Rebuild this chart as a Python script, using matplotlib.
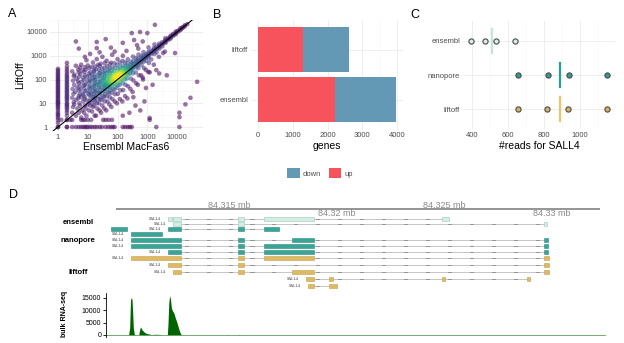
import numpy as np
import matplotlib
matplotlib.use('Agg')
import matplotlib.pyplot as plt
from matplotlib.patches import Patch, Rectangle
from matplotlib.colors import PowerNorm
from matplotlib.ticker import NullFormatter

plt.rcParams['font.family'] = ['Liberation Sans', 'DejaVu Sans']

W, H = 624, 343  # output size in pixels

# ---------------- panel A: counts per gene ----------------
# genes with 1 / 2 counts in Ensembl (vertical stripes)
col1_y = [1, 1.5, 2, 2.5, 3, 3.5, 4, 5, 6, 7, 8, 9, 10, 11, 12, 13, 15, 17, 19, 21, 24, 27,
          30, 34, 38, 43, 48, 55, 62, 70, 80, 90, 100, 115, 130, 150, 175, 200, 240, 280]
col2_y = [1, 2, 3, 4, 5, 6, 7, 8, 9, 10, 12, 14, 16, 18, 20, 23, 26, 30, 34, 39, 45, 52, 60,
          70, 80, 95, 110, 130, 150, 180, 220, 270, 350, 500]
# genes with 1 / 2 counts in LiftOff (horizontal rows)
floor1_x = [1, 2, 3, 4, 5, 6, 7, 8, 9, 10, 12, 14, 17, 20, 25, 30, 40, 50, 60, 70, 80,
            150, 180, 220, 260, 300, 2000, 12000]
floor2_x = [1.3, 2, 2.6, 3, 6, 7, 8, 10, 33, 40, 50, 65, 1200]
cloud_pts = [
    (4, 3), (4.5, 6), (3.5, 9), (4, 14), (5, 20), (3.8, 30), (4.4, 45), (5, 70), (4.2, 110), (3.6, 160), (4.8, 260), (4, 380),
    (6, 2.5), (6.5, 5), (5.5, 8), (7, 12), (6, 18), (6.8, 26), (5.8, 38), (7.2, 55), (6.2, 80), (7, 120), (5.6, 170), (6.6, 240), (6, 420),
    (9, 3), (8.5, 6), (10, 9), (9.5, 13), (8, 18), (10.5, 25), (9, 34), (11, 47), (8.8, 65), (10, 90), (9.2, 130), (11, 180), (8.5, 260), (10, 390), (9, 650),
    (13, 2), (14, 4.5), (15, 7), (13.5, 10), (16, 14), (14.5, 19), (13, 25), (15.5, 33), (14, 46), (16.5, 62), (13, 85), (15, 115), (14, 160), (16, 230), (13.5, 340), (15, 520),
    (19, 3), (21, 6), (20, 10), (22, 15), (18.5, 20), (21, 27), (19.5, 35), (23, 46), (20, 60), (22, 78), (18, 100), (21, 135), (24, 185), (19, 270), (22, 410), (20, 720),
    (28, 4), (31, 8), (29, 14), (33, 20), (27, 27), (32, 35), (30, 46), (34, 58), (28, 72), (31, 92), (33, 118), (29, 155), (32, 205), (30, 290), (27, 460), (31, 900),
    (42, 5), (46, 12), (44, 20), (48, 30), (41, 40), (47, 50), (45, 63), (43, 76), (49, 92), (44, 112), (46, 142), (42, 185), (48, 245), (45, 360), (43, 620),
    (62, 7), (67, 15), (64, 28), (70, 40), (60, 52), (66, 65), (63, 79), (69, 96), (61, 116), (68, 142), (65, 182), (63, 235), (67, 330), (62, 510), (66, 1100),
    (95, 10), (102, 25), (98, 45), (105, 62), (92, 78), (100, 92), (97, 106), (104, 122), (93, 142), (101, 172), (99, 212), (106, 285), (96, 410), (100, 720),
    (145, 12), (155, 36), (150, 70), (142, 100), (158, 125), (148, 146), (152, 166), (146, 192), (156, 232), (149, 295), (153, 385), (147, 610), (151, 1000),
    (215, 16), (225, 52), (210, 112), (230, 162), (220, 196), (212, 226), (228, 262), (218, 305), (224, 365), (214, 485), (222, 710),
    (320, 30), (340, 92), (330, 182), (315, 262), (345, 312), (325, 352), (335, 405), (318, 485), (342, 610), (328, 920),
    (480, 60), (520, 150), (500, 300), (490, 420), (510, 482), (495, 545), (515, 625), (485, 760), (505, 1120), (498, 2000),
    (720, 100), (780, 300), (750, 550), (740, 680), (770, 762), (730, 855), (760, 1010), (745, 1420),
    (1080, 210), (1130, 500), (1100, 850), (1090, 1000), (1120, 1125), (1070, 1255), (1110, 1510), (1095, 2250),
    (1650, 420), (1750, 1200), (1700, 1560), (1680, 1710), (1720, 1860), (1660, 2110), (1740, 3000),
    (2450, 900), (2550, 2000), (2500, 2360), (2480, 2510), (2530, 2720), (2470, 3200),
    (3900, 1500), (4100, 3500), (4000, 3920), (3950, 4120), (4050, 4520), (4020, 5500),
    (5900, 5200), (6100, 5850), (6000, 6250), (6050, 7000),
    (8800, 8000), (9200, 8850), (9000, 9500), (9100, 10500),
    (12800, 12100), (13200, 13100), (13000, 14600),
    (17800, 17000), (18300, 19200),
]
cloud2_pts = [
    (3, 4), (3.2, 7), (3.4, 11), (3, 17), (3.3, 25), (3.1, 40), (3.5, 60), (3.2, 90), (3.4, 140), (3, 220),
    (5, 4), (5.2, 10), (4.8, 16), (5.4, 24), (5, 35), (5.3, 52), (4.7, 85), (5.1, 130), (5, 200), (5.5, 320),
    (7.5, 4), (8, 8), (7.8, 15), (7.2, 22), (8.2, 32), (7.6, 44), (8, 60), (7.4, 95), (8.1, 150), (7.7, 210), (8, 330),
    (11, 5), (12, 8), (11.5, 12), (12.5, 17), (11, 23), (12, 30), (11.8, 40), (12.2, 55), (11.4, 75), (12, 100), (11.6, 140), (12.4, 200), (11.2, 300),
    (17, 3), (16.5, 8), (17.5, 12), (17, 17), (16, 24), (17.8, 30), (17, 40), (16.6, 52), (17.4, 70), (17, 95), (16.8, 125), (17.2, 170), (16.4, 240), (17.6, 350),
    (25, 5), (24, 10), (26, 15), (25, 20), (24.5, 28), (25.5, 37), (25, 50), (24, 65), (26, 82), (25.2, 105), (24.8, 140), (25.6, 190), (24.3, 260), (25, 380),
    (36, 6), (37, 12), (35, 18), (38, 24), (36, 32), (37.5, 42), (35.5, 54), (36.5, 68), (38, 85), (35, 108), (37, 135), (36, 175), (38, 230), (36.5, 320), (37, 500),
    (53, 9), (55, 18), (52, 27), (56, 36), (54, 46), (53, 58), (57, 72), (54, 88), (52, 110), (56, 135), (55, 170), (53, 220), (54, 300), (55, 450),
    (80, 12), (82, 24), (78, 36), (84, 50), (80, 66), (77, 80), (83, 98), (79, 118), (81, 145), (85, 180), (78, 230), (82, 310), (80, 480),
    (120, 15), (125, 35), (118, 60), (122, 85), (128, 105), (117, 122), (124, 145), (121, 170), (126, 205), (119, 260), (123, 350), (120, 520),
    (180, 20), (185, 60), (178, 100), (182, 140), (188, 172), (176, 200), (184, 235), (180, 280), (186, 360), (179, 520),
    (270, 40), (280, 110), (265, 180), (275, 235), (285, 270), (268, 300), (278, 345), (272, 420), (282, 560),
    (420, 70), (410, 200), (430, 330), (415, 395), (425, 440), (412, 500), (428, 600), (418, 800),
    (620, 150), (640, 400), (610, 560), (630, 620), (650, 700), (615, 800), (635, 1000),
    (900, 250), (930, 620), (910, 820), (890, 910), (940, 1000), (905, 1150),
    (1350, 700), (1400, 1200), (1380, 1350), (1330, 1450), (1420, 1650),
    (2050, 1400), (2000, 1900), (2100, 2050), (1980, 2250),
    (3200, 2500), (3100, 3050), (3300, 3300), (3150, 3700),
    (5000, 4600), (4800, 5000), (5100, 5500),
    (7300, 6800), (7500, 7600), (7200, 8200),
    (11000, 10500), (10600, 11200),
    (15000, 14500), (15500, 16000),
    (22000, 21500),
]
core_pts = [
    (40, 60), (50, 70), (60, 85), (70, 90), (80, 110), (90, 120), (100, 130), (110, 140), (120, 160),
    (130, 170), (150, 200), (60, 70), (80, 95), (100, 115), (120, 140), (140, 160), (70, 100), (90, 140),
    (110, 150), (130, 190), (50, 55), (75, 80), (95, 100), (115, 125), (135, 150), (160, 180), (180, 210),
    (200, 230), (85, 125), (105, 160), (125, 180), (145, 220), (65, 95), (55, 80), (170, 240), (190, 250),
]
outlier_pts = [
    (4, 4000), (5, 2000), (20, 3800), (20, 2100), (40, 5000), (300, 9000), (570, 10000), (1000, 9000),
    (1800, 20000), (360, 4600), (450, 2800), (12, 1200), (25, 1400), (8, 900), (60, 2200), (150, 3500),
    (200, 1600), (80, 1500), (700, 4000),
    (3400, 1300), (8500, 1300), (47000, 80), (28000, 17), (19000, 9), (12000, 4), (12000, 2.6),
    (4500, 150), (2000, 250), (1200, 200), (900, 44), (340, 18), (580, 5), (1200, 2.4), (2500, 180),
    (700, 120), (1500, 60), (400, 8), (250, 4), (150, 3), (800, 12),
]

# ---------------- panel B: DE genes ----------------
b_groups = ['ensembl', 'liftoff']
b_up = [2220, 1285]
b_down = [1750, 1345]

# ---------------- panel C: reads for SALL4 ----------------
c_groups = ['liftoff', 'nanopore', 'ensembl']
reads_liftoff = [655, 817, 935, 1150]
reads_nanopore = [655, 820, 937, 1150]
reads_ensembl = [395, 475, 535, 640]

# ---------------- panel D: SALL4 locus ----------------
ensembl_tx = [
    [(84312160, 84312350), (84312395, 84312770), (84315420, 84315700), (84316630, 84318950), (84324910, 84325230)],
    [(84312395, 84312770), (84315420, 84315700), (84329650, 84329800)],
]
ensembl_rows = [0, 1]
nanopore_tx = [
    [(84309510, 84310260)],
    [(84312160, 84312770), (84315420, 84315700), (84316630, 84317330)],
    [(84310440, 84311880)],
    [(84310440, 84312770), (84315420, 84315700), (84317930, 84318950), (84329650, 84329840)],
    [(84310440, 84312770), (84315420, 84315700), (84316630, 84318950), (84329650, 84329840)],
    [(84312160, 84312770), (84315420, 84315700), (84316630, 84318950), (84329650, 84329840)],
]
nanopore_rows = [0, 0, 1, 2, 3, 4]
liftoff_tx = [
    [(84310440, 84312770), (84315420, 84315700), (84316630, 84318950), (84329650, 84329880)],
    [(84312160, 84312770), (84315420, 84315700), (84329650, 84329880)],
    [(84312395, 84312770), (84315420, 84315700), (84317930, 84318950), (84329650, 84329880)],
    [(84318580, 84318950), (84319650, 84319840), (84324910, 84325050), (84328860, 84329000)],
    [(84318670, 84318950), (84319650, 84320020)],
]
liftoff_rows = [0, 1, 2, 3, 4]
axis_ticks = [84315000, 84320000, 84325000, 84330000]
axis_labels = ['84.315 mb', '84.32 mb', '84.325 mb', '84.33 mb']
cov_pos = [84309300, 84310330, 84310380, 84310420, 84310450, 84310490, 84310520, 84310550, 84310590,
           84310640, 84310800, 84310830, 84310880, 84310920, 84310960, 84311000, 84311080, 84311170,
           84311330, 84311420, 84311470, 84311650, 84311790, 84311880, 84312130, 84312160, 84312200,
           84312240, 84312280, 84312320, 84312360, 84312440, 84312500, 84312570, 84312630, 84312680,
           84312740, 84312790, 84314900, 84314950, 84315000, 84315420, 84315470, 84315520, 84332500]
cov_val = [0, 0, 3000, 14000, 15200, 14500, 9000, 3000, 500,
           0, 0, 1500, 3300, 2800, 2000, 1700, 1000, 600,
           300, 150, 250, 300, 200, 0, 0, 4000, 13000,
           16000, 14500, 11000, 10000, 8800, 7000, 5300, 3500, 2000,
           700, 0, 0, 250, 0, 0, 300, 0, 0]

# colours
up_col, down_col = '#f6535c', '#6499b6'
ens_fill, nano_fill, lift_fill = '#d6ede3', '#2f9e8b', '#d9b25e'
ens_line, nano_line, lift_line = '#c3e6d4', '#27a08c', '#ebc46a'
grid_major, grid_minor = '#ebebeb', '#f5f5f5'
tick_col = '#4d4d4d'


def box(l, t, r, b):
    # pixel box (top-left origin) -> figure fraction rect
    return [l / W, 1 - b / H, (r - l) / W, (b - t) / H]


def gg_style(ax):
    for s in ax.spines.values():
        s.set_visible(False)
    ax.tick_params(which='both', length=0, labelsize=5.5, labelcolor=tick_col, pad=2)
    ax.grid(which='major', color=grid_major, lw=0.6)
    ax.grid(which='minor', color=grid_minor, lw=0.4)
    ax.set_axisbelow(True)


fig = plt.figure(figsize=(W / 100, H / 100), dpi=100)

# ---- A ----
axA = fig.add_axes(box(50, 20, 203, 131))
pts = cloud_pts + cloud2_pts + core_pts + outlier_pts
xs = np.array([1] * len(col1_y) + [2] * len(col2_y) + floor1_x + floor2_x + [p[0] for p in pts], float)
ys = np.array(col1_y + col2_y + [1] * len(floor1_x) + [2] * len(floor2_x) + [p[1] for p in pts], float)
lx, ly = np.log10(xs), np.log10(ys)
dens = np.exp(-((lx[:, None] - lx[None, :]) ** 2 + (ly[:, None] - ly[None, :]) ** 2) / (2 * 0.22 ** 2)).sum(1)
order = np.argsort(dens)
axA.scatter(xs[order], ys[order], c=dens[order], cmap='viridis', norm=PowerNorm(1.8),
            s=11, alpha=0.55, lw=0, zorder=2)
axA.plot([0.7, 33000], [0.7, 33000], color='black', lw=0.8, zorder=3)
axA.set_xscale('log')
axA.set_yscale('log')
decades = [1, 10, 100, 1000, 10000]
axA.set_xticks(decades)
axA.set_xticklabels([str(d) for d in decades])
axA.set_yticks(decades)
axA.set_yticklabels([str(d) for d in decades])
axA.set_xticks([d * 10 ** 0.5 for d in decades], minor=True)
axA.set_yticks([d * 10 ** 0.5 for d in decades], minor=True)
axA.xaxis.set_minor_formatter(NullFormatter())
axA.yaxis.set_minor_formatter(NullFormatter())
axA.set_xlim(0.54, 74000)
axA.set_ylim(0.68, 32000)
gg_style(axA)
axA.set_xlabel('Ensembl MacFas6', fontsize=7.5, labelpad=1)
axA.set_ylabel('LiftOff', fontsize=7.5, labelpad=1)

# ---- B ----
axB = fig.add_axes(box(251, 19.5, 403, 129.5))
b_pos = np.arange(1, len(b_groups) + 1)
axB.barh(b_pos, b_up, height=0.9, color=up_col, zorder=2)
axB.barh(b_pos, b_down, left=b_up, height=0.9, color=down_col, zorder=2)
axB.set_xlim(-200, 4170)
axB.set_ylim(0.4, len(b_groups) + 0.6)
axB.set_xticks([0, 1000, 2000, 3000, 4000])
axB.set_xticks([500, 1500, 2500, 3500], minor=True)
axB.set_yticks(b_pos)
axB.set_yticklabels(b_groups)
gg_style(axB)
axB.set_xlabel('genes', fontsize=7.5, labelpad=1)
fig.legend([Patch(fc=down_col), Patch(fc=up_col)], ['down', 'up'], ncol=2, frameon=False,
           loc='center', bbox_to_anchor=(320 / W, 1 - 173 / H), fontsize=5.5,
           handlelength=1.6, handleheight=1.6, columnspacing=1.0, handletextpad=0.4,
           labelcolor=tick_col)

# ---- C ----
axC = fig.add_axes(box(463, 20.6, 615, 129.4))
c_reads = [reads_liftoff, reads_nanopore, reads_ensembl]
c_fill = [lift_fill, nano_fill, ens_fill]
c_line = [lift_line, nano_line, ens_line]
for i, (vals, fc, lc) in enumerate(zip(c_reads, c_fill, c_line)):
    y = i + 1
    axC.plot([np.mean(vals)] * 2, [y - 0.35, y + 0.35], color=lc, lw=1.6, zorder=2)
    axC.scatter(vals, [y] * len(vals), s=14, color=fc, edgecolor='#4a4a4a', lw=0.8, zorder=3)
axC.set_xlim(352, 1192)
axC.set_ylim(0.4, len(c_groups) + 0.6)
axC.set_xticks([400, 600, 800, 1000])
axC.set_xticks([500, 700, 900, 1100], minor=True)
axC.set_yticks([1, 2, 3])
axC.set_yticklabels(c_groups)
gg_style(axC)
axC.set_xlabel('#reads for SALL4', fontsize=7.5, labelpad=1)

# ---- D: gene tracks ----
BP_PX = 46.51  # bp per pixel


def bp_at(px):
    return 84315000 + (px - 229) * BP_PX


axD = fig.add_axes([0, 1 - 292 / H, 1, (292 - 195) / H])
axD.set_xlim(bp_at(0), bp_at(W))
axD.set_ylim(292, 195)
axD.axis('off')
axis_span = [bp_at(116), bp_at(600)]
axD.plot(axis_span, [209, 209], color='#8c8c8c', lw=1.3, solid_capstyle='butt')
for i, (pos, lab) in enumerate(zip(axis_ticks, axis_labels)):
    axD.text(pos, 205.5 if i % 2 == 0 else 213, lab, ha='center', va='center',
             fontsize=6.5, color='#8a8a8a')

dash_grid = np.arange(bp_at(120), bp_at(600), 22 * BP_PX)
tracks = [
    (ensembl_tx, ensembl_rows, [219, 224], ens_fill, '#98cbb8'),
    (nanopore_tx, nanopore_rows, [229, 234, 240, 246, 252], '#3aa597', '#2c8d80'),
    (liftoff_tx, liftoff_rows, [258, 265, 272, 279, 286], '#deba65', '#c6a04c'),
]
for txs, rows, row_y, fc, ec in tracks:
    for exons, r in zip(txs, rows):
        y = row_y[r]
        x0, x1 = exons[0][0], exons[-1][1]
        axD.plot([x0, x1], [y, y], color='#bdbdbd', lw=0.6, zorder=1)
        for (a, b), (c, d) in zip(exons[:-1], exons[1:]):
            for m in dash_grid:
                if b + 3 * BP_PX < m < c - 3 * BP_PX:
                    axD.plot([m - 1.5 * BP_PX, m + 1.5 * BP_PX], [y, y], color='#949494', lw=0.7, zorder=1)
        for a, b in exons:
            axD.add_patch(Rectangle((a, y - 2.2), b - a, 4.4, fc=fc, ec=ec, lw=0.4, zorder=2))
        lab_x = x0 - 7 * BP_PX
        if lab_x > axis_span[0]:
            axD.text(lab_x, y, 'SALL4', ha='right', va='center', fontsize=2.6,
                     color='#444444', family='DejaVu Serif')

for name, ypx in [('ensembl', 222), ('nanopore', 241), ('liftoff', 272)]:
    fig.text(78 / W, 1 - ypx / H, name, ha='center', va='center', fontsize=5.5, fontweight='bold')

# ---- D: coverage ----
axE = fig.add_axes(box(106, 293, 606, 337))
axE.fill_between(cov_pos, cov_val, 0, color='#006400', lw=0)
axE.plot([cov_pos[0], cov_pos[-1]], [0, 0], color='#5e9e5e', lw=0.6)
axE.set_xlim(bp_at(106), bp_at(606))
axE.set_ylim(-811, 17025)
for s in ['top', 'right', 'bottom']:
    axE.spines[s].set_visible(False)
axE.spines['left'].set_linewidth(0.6)
axE.set_xticks([])
axE.set_yticks([0, 5000, 10000, 15000])
axE.tick_params(axis='y', length=2, width=0.6, labelsize=5, pad=1.5)
fig.text(65 / W, 1 - 314 / H, 'bulk RNA-seq', rotation=90, ha='center', va='center',
         fontsize=5, fontweight='bold')

# panel letters
for lab, x, y in [('A', 12, 14), ('B', 217, 15), ('C', 415, 15), ('D', 13, 195)]:
    fig.text(x / W, 1 - y / H, lab, ha='center', va='center', fontsize=9)

fig.savefig('out.png', dpi=100)
